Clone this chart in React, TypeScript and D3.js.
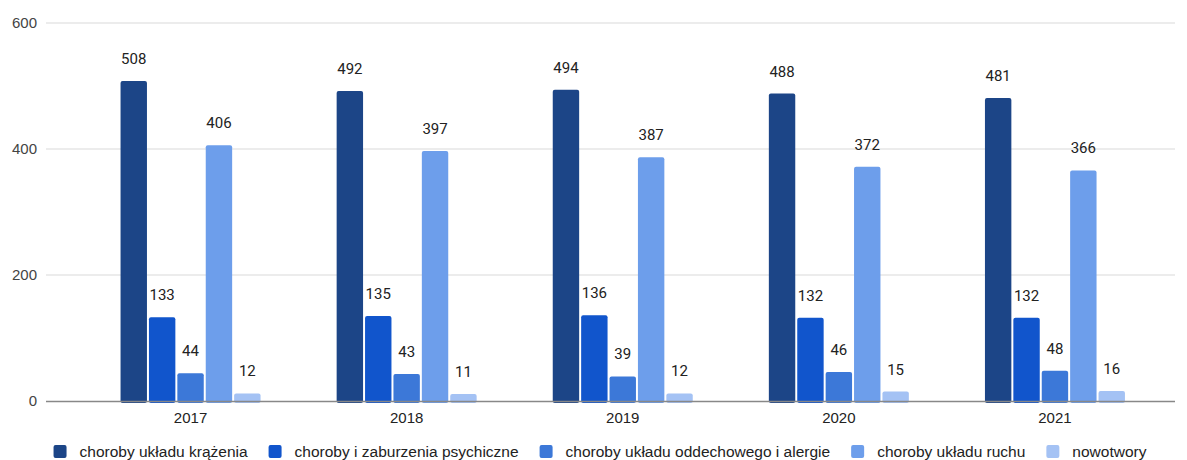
import React, { useEffect, useRef } from "react";
import * as d3 from "d3";

const years = ["2017", "2018", "2019", "2020", "2021"];
const seriesNames = [
  "choroby układu krążenia",
  "choroby i zaburzenia psychiczne",
  "choroby układu oddechowego i alergie",
  "choroby układu ruchu",
  "nowotwory",
];
const krazenia = [508, 492, 494, 488, 481];
const psychiczne = [133, 135, 136, 132, 132];
const oddechowe = [44, 43, 39, 46, 48];
const ruchu = [406, 397, 387, 372, 366];
const nowotwory = [12, 11, 12, 15, 16];
const yTicks = [0, 200, 400, 600];
const colors = ["#1c4587", "#1155cc", "#3c78d8", "#6d9eeb", "#a4c2f4"];

const W = 1187;
const H = 460;

export default function App() {
  const ref = useRef<SVGSVGElement>(null);
  useEffect(() => {
    const svg = d3.select(ref.current);
    svg.selectAll("*").remove();
    const values = [krazenia, psychiczne, oddechowe, ruchu, nowotwory];

    const y = d3.scaleLinear().domain([0, 600]).range([401, 23]);
    const x0 = d3.scaleBand().domain(years).range([82.5, 1163]).paddingInner(0).paddingOuter(0);
    const groupW = 140;
    const x1 = d3.scaleBand().domain(seriesNames).range([0, groupW]).paddingInner(0.07).paddingOuter(0);

    // grid
    svg.append("g").selectAll("line").data(yTicks.filter((t) => t !== 0)).join("line")
      .attr("x1", 46).attr("x2", 1175)
      .attr("y1", (d) => y(d)).attr("y2", (d) => y(d))
      .attr("stroke", "#d9d9d9").attr("stroke-width", 1);

    svg.append("g").selectAll("text").data(yTicks).join("text")
      .attr("x", 37).attr("y", (d) => y(d) + 5)
      .attr("text-anchor", "end")
      .attr("font-family", "Arial, 'Liberation Sans', sans-serif")
      .attr("font-size", 15).attr("fill", "#444")
      .text((d) => d);

    const rows = years.map((yr, i) => ({ yr, vals: values.map((s) => s[i]) }));
    const groups = svg.append("g").selectAll("g").data(rows).join("g")
      .attr("transform", (d) => `translate(${x0(d.yr)! + x0.bandwidth() / 2 - groupW / 2},0)`);

    groups.selectAll("rect").data((d) => d.vals.map((v, j) => ({ v, j }))).join("rect")
      .attr("x", (d) => x1(seriesNames[d.j])!)
      .attr("width", x1.bandwidth())
      .attr("y", (d) => y(d.v))
      .attr("height", (d) => y(0) - y(d.v) + 2)
      .attr("rx", 2).attr("ry", 2)
      .attr("fill", (d) => colors[d.j]);

    groups.selectAll("text").data((d) => d.vals.map((v, j) => ({ v, j }))).join("text")
      .attr("x", (d) => x1(seriesNames[d.j])! + x1.bandwidth() / 2)
      .attr("y", (d) => y(d.v) - 17)
      .attr("text-anchor", "middle")
      .attr("font-family", "Roboto, sans-serif")
      .attr("font-size", 15).attr("fill", "#222")
      .text((d) => d.v);

    // baseline
    svg.append("line").attr("x1", 46).attr("x2", 1175)
      .attr("y1", y(0) + 0.5).attr("y2", y(0) + 0.5)
      .attr("stroke", "#888").attr("stroke-width", 1.5);

    svg.append("g").selectAll("text").data(years).join("text")
      .attr("x", (d) => x0(d)! + x0.bandwidth() / 2)
      .attr("y", 423)
      .attr("text-anchor", "middle")
      .attr("font-family", "Arial, 'Liberation Sans', sans-serif")
      .attr("font-size", 15).attr("fill", "#222")
      .text((d) => d);

    // legend
    const leg = svg.append("g");
    const items = leg.selectAll("g").data(seriesNames).join("g");
    items.append("rect").attr("width", 13).attr("height", 13).attr("rx", 2)
      .attr("y", 445).attr("fill", (_d, i) => colors[i]);
    items.append("text").attr("x", 26).attr("y", 456.5)
      .attr("font-family", "Arial, 'Liberation Sans', sans-serif")
      .attr("font-size", 15.5).attr("fill", "#222")
      .text((d) => d);
    const widths: number[] = [];
    items.each(function () {
      const t = d3.select(this).select("text").node() as SVGTextElement;
      widths.push(t.getComputedTextLength());
    });
    const itemW = widths.map((w) => 26 + w);
    const gap = 21;
    const total = d3.sum(itemW) + gap * (itemW.length - 1);
    let cx = 600 - total / 2;
    const offs: number[] = [];
    itemW.forEach((w) => { offs.push(cx); cx += w + gap; });
    items.attr("transform", (_d, i) => `translate(${offs[i]},0)`);
  }, []);

  return (
    <svg ref={ref} width={W} height={H}
      style={{ position: "absolute", left: 0, top: 0, background: "#fff" }} />
  );
}
